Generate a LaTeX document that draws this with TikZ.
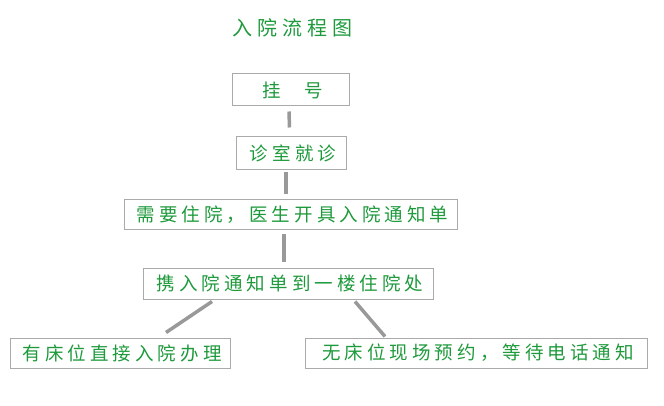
\documentclass[tikz,border=0pt]{standalone}
\usepackage{fontspec}
\newfontfamily\cjk[LetterSpace=22]{Noto Sans CJK SC}
\newfontfamily\cjkt[LetterSpace=25]{Noto Sans CJK SC}
\definecolor{txtgreen}{HTML}{1E9A3C}
\definecolor{boxgray}{HTML}{AAAAAA}
\definecolor{linegray}{HTML}{999999}
\tikzset{
  box/.style={draw=boxgray, line width=1pt, fill=white, inner sep=0pt,
    text=txtgreen, font=\cjk\fontsize{18.5}{18.5}\selectfont},
  conn/.style={draw=linegray, line width=3.5pt, line cap=butt},
}
\newcommand{\tx}[1]{#1\kern-4pt}
\begin{document}
\begin{tikzpicture}[x=1pt,y=-1pt]
\useasboundingbox (0,0) rectangle (664,406);
\node[text=txtgreen, font=\cjkt\fontsize{20}{20}\selectfont] (title) at (290,28) {入院流程图\kern-5pt};
\node[box, minimum width=117pt, minimum height=32pt] (n1) at (290.5,90) {挂\hspace{24pt}\tx{号}};
\node[box, minimum width=110pt, minimum height=33pt] (n2) at (291,153.5) {\tx{诊室就诊}};
\node[box, minimum width=333pt, minimum height=30pt] (n3) at (290.5,215) {\tx{需要住院，医生开具入院通知单}};
\node[box, minimum width=290pt, minimum height=31pt] (n4) at (288,283.5) {\tx{携入院通知单到一楼住院处}};
\node[box, minimum width=220pt, minimum height=30pt] (n5) at (120,353) {\tx{有床位直接入院办理}};
\node[box, minimum width=342pt, minimum height=30pt] (n6) at (476,353) {\tx{无床位现场预约，等待电话通知}};
\draw[conn] ([shift={(-1.5,5)}]n1.south) -- ([shift={(-1.5,-9)}]n2.north);
\draw[conn] ([shift={(-5,2)}]n2.south) -- ([shift={(-5,-5)}]n2.south |- n3.north);
\draw[conn] ([shift={(-6.5,4)}]n3.south) -- ([shift={(-6.5,-6)}]n3.south |- n4.north);
\draw[conn] ([shift={(-76,2)}]n4.south) -- ([shift={(46,-5)}]n5.north);
\draw[conn] ([shift={(67,2)}]n4.south) -- ([shift={(-91,-1)}]n6.north);
\end{tikzpicture}
\end{document}
